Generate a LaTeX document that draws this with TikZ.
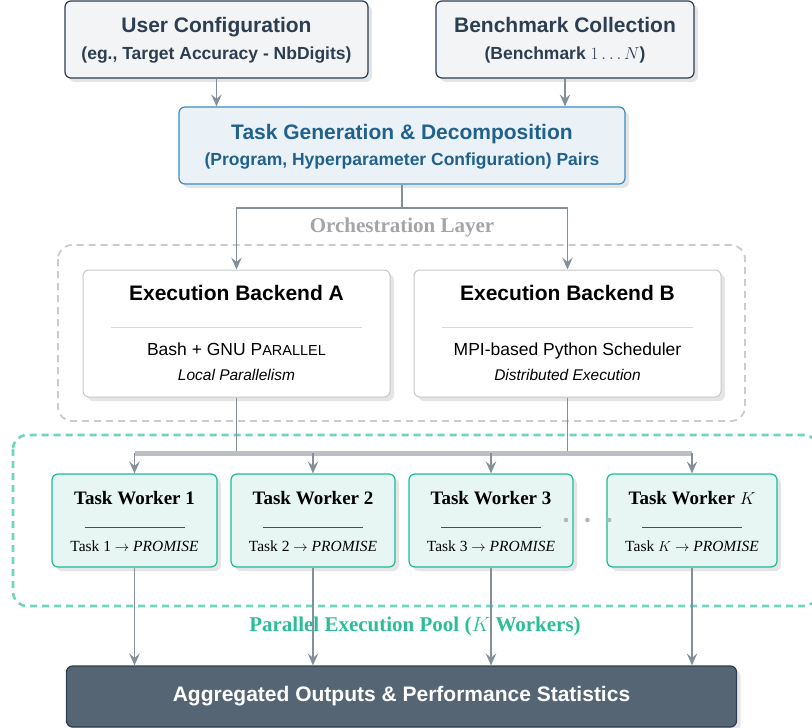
\documentclass[tikz,border=0pt]{standalone}
\usepackage{fontspec}
\setmainfont{Liberation Serif}
\setsansfont{Liberation Sans}
\usetikzlibrary{arrows.meta,shadows}

\definecolor{inkdark}{HTML}{2C3E50}
\definecolor{boxgray}{HTML}{F3F4F6}
\definecolor{genblue}{HTML}{3A8CC4}
\definecolor{genfill}{HTML}{EAF2F8}
\definecolor{gentext}{HTML}{21618C}
\definecolor{arrowgray}{HTML}{858F99}
\definecolor{edgegray}{HTML}{C6C9CC}
\definecolor{rulegray}{HTML}{D6D8DA}
\definecolor{busgray}{HTML}{BCC0C5}
\definecolor{framegray}{HTML}{C9CBCD}
\definecolor{layergray}{HTML}{A3A5A8}
\definecolor{poolgreen}{HTML}{6FD6BE}
\definecolor{workgreen}{HTML}{1ABC9C}
\definecolor{workfill}{HTML}{E8F6F3}
\definecolor{pooltext}{HTML}{2BBD98}
\definecolor{aggfill}{HTML}{566573}
\definecolor{dotgray}{HTML}{B4B6B9}

\begin{document}
\begin{tikzpicture}[x=1pt,y=-1pt,
    shade box/.style={draw, rounded corners=6pt, line width=1.2pt, inner sep=0pt,
      drop shadow={shadow xshift=4pt,shadow yshift=-4pt,opacity=0.10,fill=black}},
    input box/.style={shade box, draw=inkdark, fill=boxgray, minimum height=77pt},
    gen box/.style={shade box, draw=genblue, fill=genfill, minimum width=446pt, minimum height=77pt},
    backend box/.style={shade box, draw=edgegray, line width=1pt, fill=white, minimum width=307pt, minimum height=127pt},
    worker box/.style={shade box, draw=workgreen, fill=workfill, minimum height=93pt},
    agg box/.style={shade box, draw=inkdark, fill=aggfill, minimum width=670pt, minimum height=61pt},
    headtxt/.style={anchor=base, font=\sffamily\bfseries\fontsize{21}{25}\selectfont},
    subtxt/.style={anchor=base, font=\sffamily\bfseries\fontsize{17.5}{21}\selectfont},
    bodytxt/.style={anchor=base, font=\sffamily\fontsize{17.5}{21}\selectfont},
    notetxt/.style={anchor=base, font=\sffamily\itshape\fontsize{15.5}{19}\selectfont},
    wtitle/.style={anchor=base, font=\rmfamily\bfseries\fontsize{19}{23}\selectfont},
    wtask/.style={anchor=base, font=\rmfamily\fontsize{15.5}{19}\selectfont},
    layertxt/.style={anchor=base, font=\rmfamily\bfseries\fontsize{21}{25}\selectfont},
    flow/.style={draw=arrowgray, line width=1.4pt, -{Stealth[length=12pt,width=10.5pt,inset=4.5pt]}},
    wire/.style={draw=arrowgray, line width=1.4pt},
    frame/.style={rounded corners=14pt, dash pattern=on 7pt off 5pt}
  ]

  \useasboundingbox (0,0) rectangle (812,728);

  % Layer frames
  \draw[frame, draw=framegray, line width=1.8pt] (58,245) rectangle (745,421);
  \draw[frame, draw=poolgreen, line width=2.6pt] (13,435) rectangle (818,606);

  % Inputs
  \node[input box, minimum width=303pt] (user) at (216.5,39.5) {};
  \node[headtxt, text=inkdark] (userT) at (216.5,32.3) {User Configuration};
  \node[subtxt, text=inkdark] (userS) at (216.5,59.5) {(eg., Target Accuracy - NbDigits)};

  \node[input box, minimum width=258pt] (bench) at (565,39.5) {};
  \node[headtxt, text=inkdark] (benchT) at (565,32.3) {Benchmark Collection};
  \node[subtxt, text=inkdark] (benchS) at (565,59.5) {(Benchmark $1\ldots N$)};

  \node[gen box] (gen) at (402,145.5) {};
  \node[headtxt, text=gentext] (genT) at (402,139) {Task Generation \& Decomposition};
  \node[subtxt, text=gentext] (genS) at (402,165) {(Program, Hyperparameter Configuration) Pairs};

  \draw[flow] (user.south) -- (user.south |- gen.north);
  \draw[flow] (bench.south) -- (bench.south |- gen.north);

  % Orchestration
  \node[layertxt, text=layergray] (orch) at (402,232) {Orchestration Layer};

  \node[backend box] (backA) at (236.5,333.5) {};
  \node[headtxt] (backAT) at (236.5,300.7) {Execution Backend A};
  \draw[rulegray, line width=1pt] (111,327) -- (362,327);
  \node[bodytxt] (backAS) at (236.5,355.7) {Bash + GNU P{\fontsize{14.5}{17}\selectfont ARALLEL}};
  \node[notetxt] (backAN) at (236.5,380.7) {Local Parallelism};

  \node[backend box] (backB) at (567.5,333.5) {};
  \node[headtxt] (backBT) at (567.5,300.7) {Execution Backend B};
  \draw[rulegray, line width=1pt] (442,327) -- (693,327);
  \node[bodytxt] (backBS) at (567.5,355.7) {MPI-based Python Scheduler};
  \node[notetxt] (backBN) at (567.5,380.7) {Distributed Execution};

  \coordinate (split) at (402,208);
  \draw[wire] (gen.south) -- (split);
  \draw[flow] (split) -| (backA.north);
  \draw[flow] (split) -| (backB.north);

  % Workers
  \foreach \n/\lab/\cx/\bw in {1/1/134.5/165, 2/2/313/164, 3/3/491/164, K/$K$/692/170}
  {
    \node[worker box, minimum width=\bw pt] (w\n) at (\cx,520.5) {};
    \node[wtitle] (w\n T) at (\cx,504) {Task Worker \lab};
    \draw[black!70, line width=1pt] (\cx-50,527) -- (\cx+50,527);
    \node[wtask] (w\n S) at (\cx,551.5) {Task \lab{} $\rightarrow$ \textit{PROMISE}};
  }
  \foreach \dx in {566,587.5,609}
    \fill[dotgray] (\dx,520) circle (2.3pt);

  \coordinate (busL) at (134.5,453);
  \coordinate (busR) at (692,453);
  \draw[wire] (backA.south) -- (backA.south |- busL);
  \draw[wire] (backB.south) -- (backB.south |- busL);
  \draw[busgray, line width=5pt] (busL) -- (busR);
  \foreach \n in {1,2,3,K}
    \draw[flow] (w\n.north |- busL) -- (w\n.north);

  % Pool label and outputs
  \node[layertxt, text=pooltext] (pool) at (415,631) {Parallel Execution Pool ($K$ Workers)};

  \node[agg box] (agg) at (401.5,696.5) {};
  \node[headtxt, text=white] (aggT) at (401.5,701.7) {Aggregated Outputs \& Performance Statistics};

  \foreach \n in {1,2,3,K}
    \draw[flow] (w\n.south) -- (w\n.south |- agg.north);

\end{tikzpicture}
\end{document}
